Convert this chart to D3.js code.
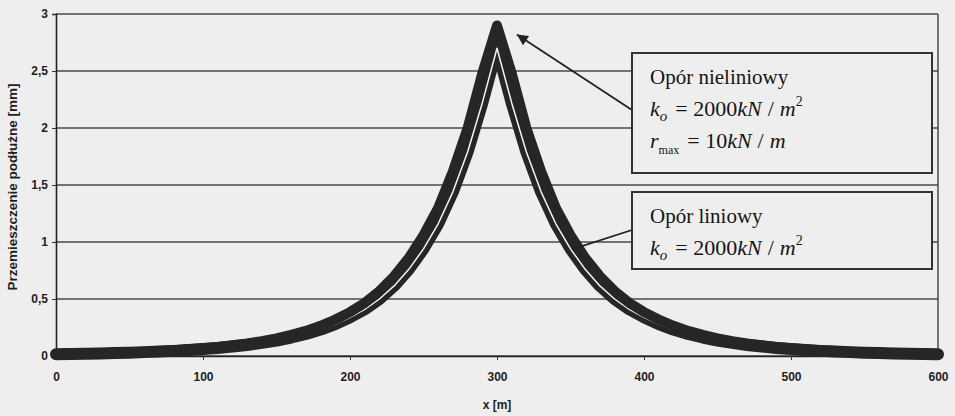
<!DOCTYPE html>
<html>
<head>
<meta charset="utf-8">
<title>Przemieszczenie podłużne</title>
<style>
  body { margin: 0; background: #eeeeee; }
  svg { display: block; }
</style>
</head>
<body>
<script src="https://cdn.jsdelivr.net/npm/d3@7/dist/d3.min.js"></script>
<script>
    var width = 955;
    var height = 416;

    // x [m], co 10 m
    var xValues = [0,10,20,30,40,50,60,70,80,90,100,110,120,130,140,150,160,170,180,190,
                   200,210,220,230,240,250,260,270,280,290,300,310,320,330,340,350,360,370,380,390,
                   400,410,420,430,440,450,460,470,480,490,500,510,520,530,540,550,560,570,580,590,600];
    // opór nieliniowy [mm]
    var nonlinear = [0.018,0.020,0.022,0.025,0.029,0.033,0.038,0.044,0.051,0.059,
                     0.069,0.080,0.094,0.11,0.13,0.155,0.185,0.22,0.265,0.32,
                     0.385,0.465,0.57,0.70,0.86,1.06,1.30,1.62,2.00,2.48,
                     2.90,
                     2.48,2.00,1.62,1.30,1.06,0.86,0.70,0.57,0.465,0.385,
                     0.32,0.265,0.22,0.185,0.155,0.13,0.11,0.094,0.080,0.069,
                     0.059,0.051,0.044,0.038,0.033,0.029,0.025,0.022,0.020,0.018];
    // opór liniowy [mm]
    var linear = [0.016,0.018,0.020,0.023,0.026,0.029,0.034,0.039,0.045,0.052,
                  0.061,0.071,0.083,0.097,0.115,0.136,0.162,0.193,0.232,0.28,
                  0.34,0.41,0.50,0.615,0.76,0.94,1.16,1.44,1.79,2.22,
                  2.70,
                  2.22,1.79,1.44,1.16,0.94,0.76,0.615,0.50,0.41,0.34,
                  0.28,0.232,0.193,0.162,0.136,0.115,0.097,0.083,0.071,0.061,
                  0.052,0.045,0.039,0.034,0.029,0.026,0.023,0.020,0.018,0.016];

    var xTicks = [0,100,200,300,400,500,600];
    var yTicks = [0,0.5,1,1.5,2,2.5,3];

    var ink = '#262626';
    var grid = '#4a4a4a';
    var bg = '#eeeeee';

    var svg = d3.select('body')
            .append('svg')
            .attr('width', width)
            .attr('height', height);

    var x = d3.scaleLinear().domain([0, 600]).range([56, 938]);
    var y = d3.scaleLinear().domain([0, 3]).range([356, 14]);

    // siatka
    svg.append('g')
            .selectAll('line')
            .data(yTicks)
            .enter()
            .append('line')
            .attr('x1', x(0))
            .attr('x2', x(600))
            .attr('y1', function (d) { return y(d); })
            .attr('y2', function (d) { return y(d); })
            .attr('stroke', grid)
            .attr('stroke-width', 1.3);

    // ramka
    svg.append('line')
            .attr('x1', x(600)).attr('x2', x(600))
            .attr('y1', y(3)).attr('y2', y(0))
            .attr('stroke', grid).attr('stroke-width', 1.5);

    // osie
    var yAxis = svg.append('g')
            .attr('transform', 'translate(' + x(0) + ',0)')
            .call(d3.axisLeft(y).tickValues(yTicks).tickSize(4)
                    .tickFormat(function (d) { return String(d).replace('.', ','); }));
    var xAxis = svg.append('g')
            .attr('transform', 'translate(0,' + y(0) + ')')
            .call(d3.axisBottom(x).tickValues(xTicks).tickSize(4).tickPadding(12));

    [xAxis, yAxis].forEach(function (g) {
        g.select('.domain').attr('stroke', '#222').attr('stroke-width', 1.6);
        g.selectAll('.tick line').attr('stroke', '#333');
        g.selectAll('.tick text')
                .attr('fill', '#1e1e1e')
                .style('font-family', '"Liberation Sans Narrow", "Liberation Sans", Arial, sans-serif')
                .style('font-weight', 'bold')
                .style('font-size', '12px');
    });
    yAxis.selectAll('.tick text').attr('x', -8);

    // tytuły osi
    svg.append('text')
            .attr('transform', 'translate(17,' + ((y(0) + y(3)) / 2 + 2) + ') rotate(-90)')
            .attr('text-anchor', 'middle')
            .attr('fill', '#1e1e1e')
            .style('font-family', '"Liberation Sans", Arial, sans-serif')
            .style('font-weight', 'bold')
            .style('font-size', '13.5px')
            .text('Przemieszczenie podłużne  [mm]');
    svg.append('text')
            .attr('x', (x(0) + x(600)) / 2)
            .attr('y', 409)
            .attr('text-anchor', 'middle')
            .attr('fill', '#1e1e1e')
            .style('font-family', '"Liberation Sans Narrow", "Liberation Sans", Arial, sans-serif')
            .style('font-weight', 'bold')
            .style('font-size', '12px')
            .text('x [m]');

    // krzywe
    var line = d3.line()
            .x(function (d) { return x(d[0]); })
            .y(function (d) { return y(d[1]); });

    var linData = d3.zip(xValues, linear);
    var nonData = d3.zip(xValues, nonlinear);

    svg.append('path')
            .datum(linData)
            .attr('d', line)
            .attr('fill', 'none')
            .attr('stroke', ink)
            .attr('stroke-width', 12)
            .attr('stroke-linejoin', 'round')
            .attr('stroke-linecap', 'round');
    svg.append('path')
            .datum(linData)
            .attr('d', line)
            .attr('fill', 'none')
            .attr('stroke', '#f4f4f4')
            .attr('stroke-width', 1.5)
            .attr('stroke-linejoin', 'round');
    svg.append('path')
            .datum(nonData)
            .attr('d', line)
            .attr('fill', 'none')
            .attr('stroke', ink)
            .attr('stroke-width', 10)
            .attr('stroke-linejoin', 'round')
            .attr('stroke-linecap', 'round');

    // opisy
    var defs = svg.append('defs');
    defs.append('marker')
            .attr('id', 'arrow')
            .attr('viewBox', '0 0 10 10')
            .attr('refX', 10).attr('refY', 5)
            .attr('markerWidth', 15).attr('markerHeight', 11)
            .attr('markerUnits', 'userSpaceOnUse')
            .attr('orient', 'auto')
            .append('path')
            .attr('d', 'M0,0L10,5L0,10Z')
            .attr('fill', '#222');

    svg.append('line')
            .attr('x1', 632).attr('y1', 110)
            .attr('x2', x(313.5)).attr('y2', y(2.82))
            .attr('stroke', '#222').attr('stroke-width', 1.8)
            .attr('marker-end', 'url(#arrow)');
    svg.append('line')
            .attr('x1', 632).attr('y1', 230)
            .attr('x2', x(352)).attr('y2', y(0.94))
            .attr('stroke', '#222').attr('stroke-width', 1.8);

    var boxes = [
        { y0: 53, y1: 173, lines: ['title:Opór nieliniowy', 'ko', 'rmax'] },
        { y0: 192, y1: 269, lines: ['title:Opór liniowy', 'ko'] }
    ];
    var serif = '"Liberation Serif", "Times New Roman", serif';

    boxes.forEach(function (b) {
        var g = svg.append('g');
        g.append('rect')
                .attr('x', 632).attr('y', b.y0)
                .attr('width', 300).attr('height', b.y1 - b.y0)
                .attr('fill', bg)
                .attr('stroke', '#333')
                .attr('stroke-width', 2);
        b.lines.forEach(function (l, i) {
            var t = g.append('text')
                    .attr('x', 650)
                    .attr('y', b.y0 + 31 + i * 32)
                    .attr('fill', '#151515')
                    .style('font-family', serif)
                    .style('font-size', '21px');
            if (l.indexOf('title:') === 0) {
                t.text(l.slice(6));
            } else if (l === 'ko') {
                t.style('font-size', '22px');
                t.append('tspan').style('font-style', 'italic').text('k');
                t.append('tspan').style('font-style', 'italic').style('font-size', '15px').attr('dy', 5).text('o');
                t.append('tspan').attr('dy', -5).attr('dx', 8).text('= 2000');
                t.append('tspan').style('font-style', 'italic').text('kN');
                t.append('tspan').attr('dx', 6).text('/');
                t.append('tspan').attr('dx', 6).style('font-style', 'italic').text('m');
                t.append('tspan').style('font-size', '14px').attr('dy', -10).text('2');
            } else {
                t.style('font-size', '22px');
                t.append('tspan').style('font-style', 'italic').text('r');
                t.append('tspan').style('font-size', '12px').attr('dy', 6).text('max');
                t.append('tspan').attr('dy', -6).attr('dx', 8).text('= 10');
                t.append('tspan').style('font-style', 'italic').text('kN');
                t.append('tspan').attr('dx', 6).text('/');
                t.append('tspan').attr('dx', 6).style('font-style', 'italic').text('m');
            }
        });
    });
</script>
</body>
</html>
